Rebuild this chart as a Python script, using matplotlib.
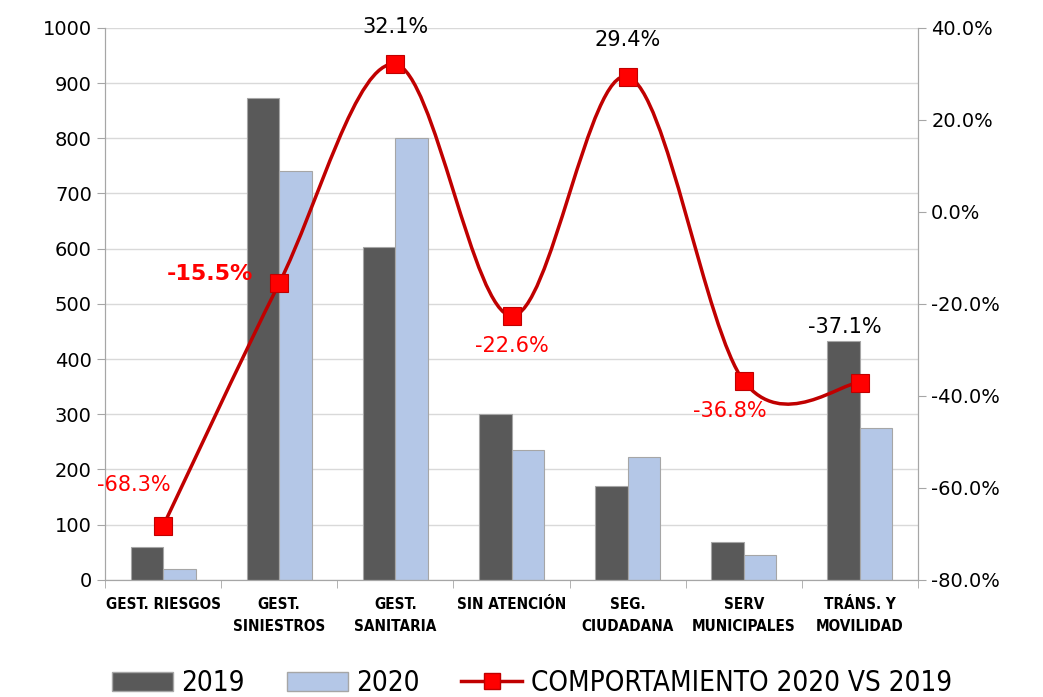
import matplotlib
matplotlib.use("Agg")
import matplotlib.pyplot as plt
import numpy as np
from matplotlib.path import Path
from matplotlib.patches import PathPatch
from matplotlib.lines import Line2D
from matplotlib.patches import Patch

### Data
categories = ["GEST. RIESGOS", "GEST.\nSINIESTROS", "GEST.\nSANITARIA", "SIN ATENCIÓN",
              "SEG.\nCIUDADANA", "SERV\nMUNICIPALES", "TRÁNS. Y\nMOVILIDAD"]
vals_2019 = [60, 873, 603, 300, 170, 68, 433]
vals_2020 = [20, 740, 800, 235, 222, 45, 275]
comport = [-68.3, -15.5, 32.1, -22.6, 29.4, -36.8, -37.1]
labels_pct = ["-68.3%", "-15.5%", "32.1%", "-22.6%", "29.4%", "-36.8%", "-37.1%"]

fig = plt.figure(figsize=(10.43, 6.97), dpi=100)
ax = fig.add_axes([0.1007, 0.168, 0.7795, 0.792])
ax2 = ax.twinx()

x = np.arange(len(categories))
w = 0.28
ax.bar(x - w/2, vals_2019, w, color="#595959", edgecolor="#a6a6a6", linewidth=0.8, zorder=2)
ax.bar(x + w/2, vals_2020, w, color="#b4c7e7", edgecolor="#a6a6a6", linewidth=0.8, zorder=2)

ax.set_xlim(-0.5, len(categories) - 0.5)
ax.set_ylim(0, 1000)
ax.set_yticks(range(0, 1001, 100))
ax.yaxis.grid(True, color="#d9d9d9", linewidth=1)
ax.set_axisbelow(True)
ax.set_xticks(x)
ax.set_xticklabels(categories, fontweight="bold", fontstretch="condensed", fontsize=11,
                   va="top", linespacing=1.65)
ax.set_xticks(np.arange(-0.5, len(categories)), minor=True)
ax.tick_params(axis="x", which="major", length=0, pad=12)
ax.tick_params(axis="x", which="minor", length=6, color="#a6a6a6")
ax.tick_params(axis="y", labelsize=14, length=6, color="#a6a6a6")
for s in ["top"]:
    ax.spines[s].set_visible(False)
    ax2.spines[s].set_visible(False)
for s in ["left", "bottom", "right"]:
    ax.spines[s].set_color("#a6a6a6")
    ax2.spines[s].set_color("#a6a6a6")

# secondary axis
ax2.set_ylim(-80, 40)
ax2.set_yticks(range(-80, 41, 20))
ax2.set_yticklabels(["%.1f%%" % t for t in range(-80, 41, 20)])
ax2.tick_params(axis="y", labelsize=14, length=6, color="#a6a6a6")

# smoothed line (bezier like Excel smoothing)
pts = np.column_stack([x, comport]).astype(float)
verts = [pts[0]]
codes = [Path.MOVETO]
n = len(pts)
for i in range(n - 1):
    p0 = pts[i - 1] if i > 0 else pts[i]
    p1 = pts[i]
    p2 = pts[i + 1]
    p3 = pts[i + 2] if i + 2 < n else pts[i + 1]
    c1 = p1 + (p2 - p0) / 6
    c2 = p2 - (p3 - p1) / 6
    verts += [c1, c2, p2]
    codes += [Path.CURVE4] * 3
ax2.add_patch(PathPatch(Path(verts, codes), facecolor="none", edgecolor="#c00000", linewidth=2.5, zorder=3))
ax2.plot(x, comport, linestyle="none", marker="s", markersize=13, markerfacecolor="#ff0000",
         markeredgecolor="#c00000", markeredgewidth=0.8, zorder=4)

# data labels
offsets = [(-0.25, 9, "#ff0000", "normal", 15),
           (-0.6, 2, "#ff0000", "bold", 16),
           (0, 8, "black", "normal", 15),
           (0, -6.5, "#ff0000", "normal", 15),
           (0, 8, "black", "normal", 15),
           (-0.12, -6.5, "#ff0000", "normal", 15),
           (-0.13, 12, "black", "normal", 15)]
for xi, yi, lab, (dx, dy, col, fw, fs) in zip(x, comport, labels_pct, offsets):
    ax2.text(xi + dx, yi + dy, lab, color=col, fontweight=fw, fontsize=fs, ha="center", va="center", zorder=5)

handles = [Patch(facecolor="#595959", edgecolor="#a6a6a6"),
           Patch(facecolor="#b4c7e7", edgecolor="#a6a6a6"),
           Line2D([0], [0], color="#c00000", linewidth=2.5, marker="s", markersize=11,
                  markerfacecolor="#ff0000", markeredgecolor="#c00000")]
fig.legend(handles, ["2019", "2020", "COMPORTAMIENTO 2020 VS 2019"], loc="center",
           bbox_to_anchor=(0.51, 0.02), ncol=3, frameon=False,
           prop={"stretch": "condensed", "size": 20}, handlelength=2.2, columnspacing=1.5, handletextpad=0.3)

fig.savefig("out.png", dpi=100)
